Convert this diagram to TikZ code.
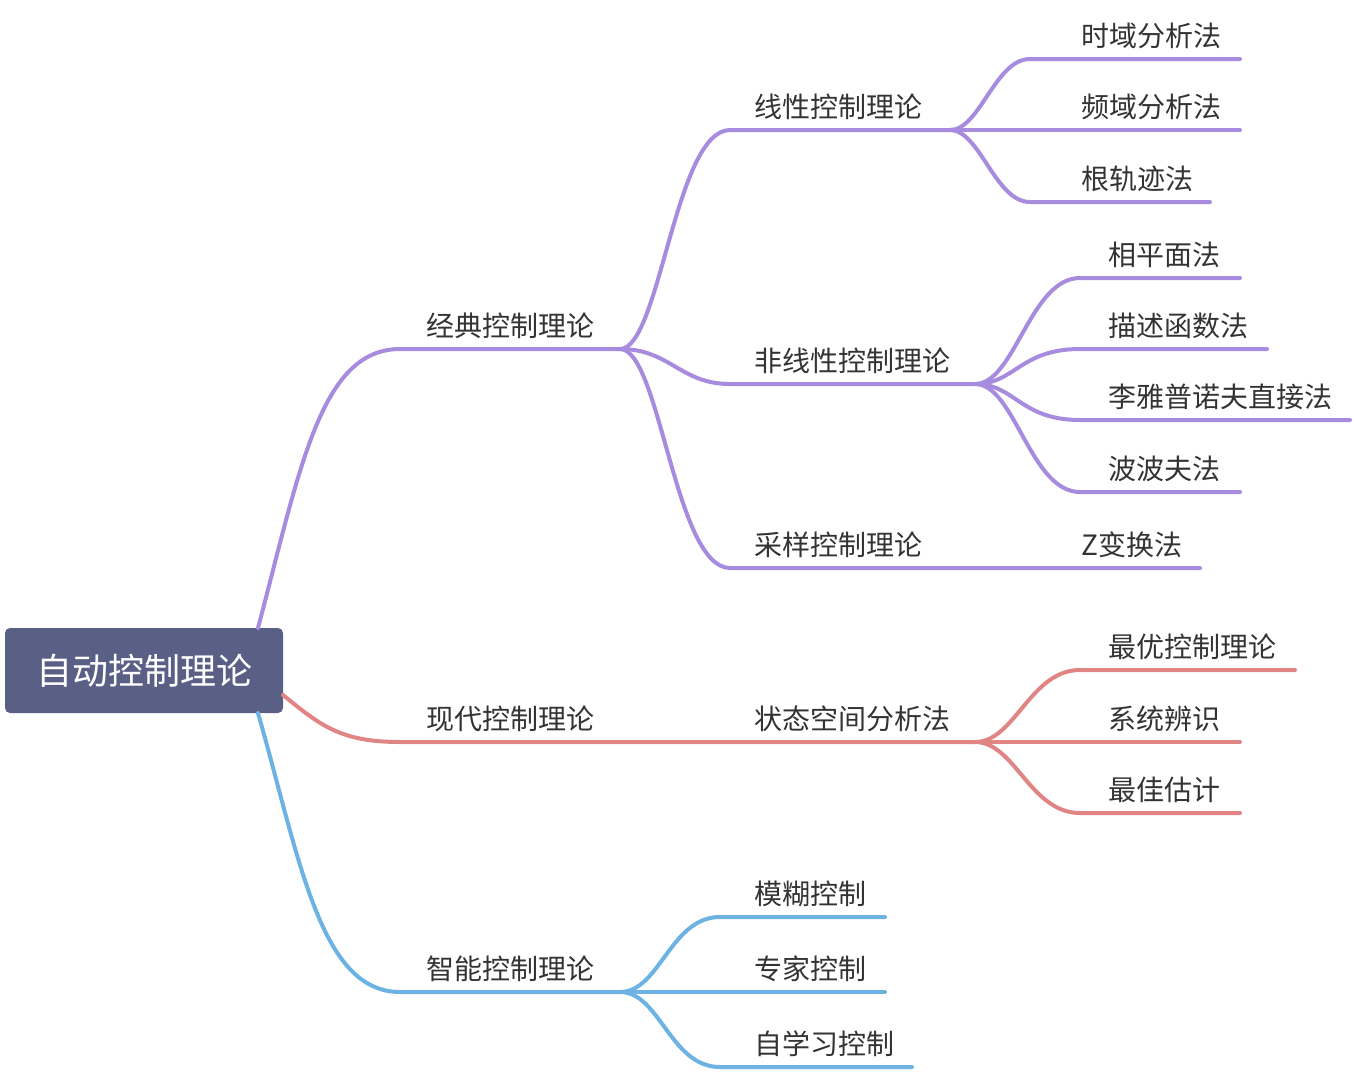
\documentclass[tikz,border=0pt]{standalone}
\usepackage{fontspec}
\setmainfont{Noto Sans CJK SC}
\definecolor{pur}{HTML}{A68BDF}
\definecolor{rd}{HTML}{E08484}
\definecolor{bl}{HTML}{6CB2E2}
\definecolor{rootc}{HTML}{5A5F86}
\begin{document}
\begin{tikzpicture}[x=1pt,y=-1pt,
  ln/.style={line width=4pt,line cap=round},
  lbl/.style={anchor=south west,inner sep=0pt,font=\fontsize{28}{28}\selectfont,text=black!80}]
\useasboundingbox (0,0) rectangle (1354,1072);
% root
\node[fill=rootc,rounded corners=5pt,minimum width=278pt,minimum height=85pt,text=white,font=\fontsize{36}{36}\selectfont] (root) at (144,670.5) {自动控制理论};
\coordinate (rt) at (258,628); \coordinate (rr) at (283,695); \coordinate (rb) at (258,713);
% level 1 coords
\coordinate (a0) at (400,349); \coordinate (a1) at (620,349);
\coordinate (b0) at (400,742); \coordinate (b1) at (975,742);
\coordinate (c0) at (400,992); \coordinate (c1) at (620,992);
% purple
\begin{scope}[pur,ln]
\draw (rt) .. controls (300,470) and (320,349) .. (a0) -- (a1);
\coordinate (l0) at (730,130); \coordinate (l1) at (950,130);
\coordinate (n0) at (730,384); \coordinate (n1) at (975,384);
\coordinate (s0) at (730,568); \coordinate (s1) at (1200,568);
\draw (a1) .. controls (660,349) and (675,130) .. (l0) -- (l1);
\draw (a1) .. controls (670,349) and (680,384) .. (n0) -- (n1);
\draw (a1) .. controls (660,349) and (675,568) .. (s0) -- (s1);
\coordinate (t1) at (1030,59); \coordinate (t1e) at (1240,59);
\coordinate (t2) at (1030,130); \coordinate (t2e) at (1240,130);
\coordinate (t3) at (1030,202); \coordinate (t3e) at (1210,202);
\draw (l1) .. controls (980,130) and (995,59) .. (t1) -- (t1e);
\draw (l1) -- (t2e);
\draw (l1) .. controls (980,130) and (995,202) .. (t3) -- (t3e);
\coordinate (u1) at (1080,278); \coordinate (u1e) at (1240,278);
\coordinate (u2) at (1080,349); \coordinate (u2e) at (1267,349);
\coordinate (u3) at (1080,420); \coordinate (u3e) at (1350,420);
\coordinate (u4) at (1080,492); \coordinate (u4e) at (1240,492);
\draw (n1) .. controls (1015,384) and (1030,278) .. (u1) -- (u1e);
\draw (n1) .. controls (1015,384) and (1020,349) .. (u2) -- (u2e);
\draw (n1) .. controls (1015,384) and (1020,420) .. (u3) -- (u3e);
\draw (n1) .. controls (1015,384) and (1030,492) .. (u4) -- (u4e);
\end{scope}
% red
\begin{scope}[rd,ln]
\draw (rr) .. controls (320,725) and (340,742) .. (b0) -- (b1);
\coordinate (v1) at (1080,670); \coordinate (v1e) at (1295,670);
\coordinate (v2e) at (1240,742);
\coordinate (v3) at (1080,813); \coordinate (v3e) at (1240,813);
\draw (b1) .. controls (1015,742) and (1030,670) .. (v1) -- (v1e);
\draw (b1) -- (v2e);
\draw (b1) .. controls (1015,742) and (1030,813) .. (v3) -- (v3e);
\end{scope}
% blue
\begin{scope}[bl,ln]
\draw (rb) .. controls (300,860) and (320,992) .. (c0) -- (c1);
\coordinate (w1) at (720,917); \coordinate (w1e) at (885,917);
\coordinate (w2e) at (885,992);
\coordinate (w3) at (720,1067); \coordinate (w3e) at (912,1067);
\draw (c1) .. controls (660,992) and (670,917) .. (w1) -- (w1e);
\draw (c1) -- (w2e);
\draw (c1) .. controls (660,992) and (670,1067) .. (w3) -- (w3e);
\end{scope}
% labels
\node[lbl] (A) at (426,339) {经典控制理论};
\node[lbl] (B) at (426,732) {现代控制理论};
\node[lbl] (C) at (426,982) {智能控制理论};
\node[lbl] (L) at (754,120) {线性控制理论};
\node[lbl] (N) at (754,374) {非线性控制理论};
\node[lbl] (S) at (754,558) {采样控制理论};
\node[lbl] (Z) at (1081,558) {Z变换法};
\node[lbl] (T1) at (1081,49) {时域分析法};
\node[lbl] (T2) at (1081,120) {频域分析法};
\node[lbl] (T3) at (1081,192) {根轨迹法};
\node[lbl] (U1) at (1108,268) {相平面法};
\node[lbl] (U2) at (1108,339) {描述函数法};
\node[lbl] (U3) at (1108,410) {李雅普诺夫直接法};
\node[lbl] (U4) at (1108,482) {波波夫法};
\node[lbl] (SS) at (754,732) {状态空间分析法};
\node[lbl] (V1) at (1108,660) {最优控制理论};
\node[lbl] (V2) at (1108,732) {系统辨识};
\node[lbl] (V3) at (1108,803) {最佳估计};
\node[lbl] (W1) at (754,907) {模糊控制};
\node[lbl] (W2) at (754,982) {专家控制};
\node[lbl] (W3) at (754,1057) {自学习控制};
\end{tikzpicture}
\end{document}
